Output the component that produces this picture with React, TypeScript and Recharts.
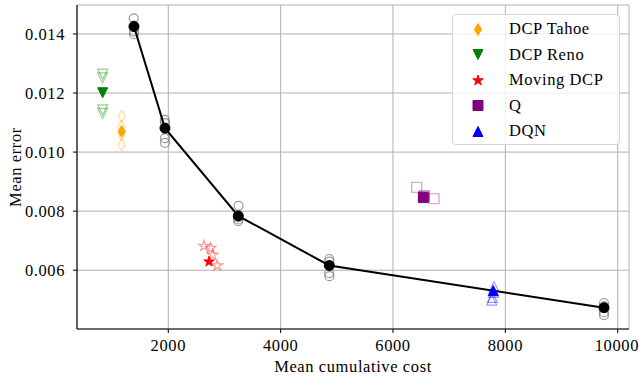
import React from "react";
import { ScatterChart, Scatter, XAxis, YAxis, CartesianGrid, Legend, Label } from "recharts";

const xTicks = [2000, 4000, 6000, 8000, 10000];
const yTicks = [0.006, 0.008, 0.01, 0.012, 0.014];

// threshold sweep (black line) and its single runs
const sweepCost = [1389, 1941, 3246, 4866, 9756];
const sweepError = [0.01425, 0.01081, 0.00784, 0.00616, 0.00473];
const sweepRunCost = [1385, 1390, 1392, 1388, 1938, 1943, 1940, 1942, 3250, 3245, 3248, 3244, 4866, 4868, 4864, 4867, 9755, 9757, 9754, 9756];
const sweepRunError = [0.01453, 0.01428, 0.01408, 0.01399, 0.01109, 0.01098, 0.01047, 0.01031, 0.00818, 0.0078, 0.00772, 0.00766, 0.00638, 0.00629, 0.0059, 0.0058, 0.00489, 0.00478, 0.00458, 0.00448];

const tahoeCost = [1170];
const tahoeError = [0.0107];
const tahoeRunCost = [1170, 1168, 1172, 1169];
const tahoeRunError = [0.01121, 0.01087, 0.01059, 0.01025];

const renoCost = [832];
const renoError = [0.01201];
const renoRunCost = [834, 830, 833, 831];
const renoRunError = [0.01264, 0.01251, 0.01143, 0.01131];

const movingCost = [2725];
const movingError = [0.00629];
const movingRunCost = [2636, 2755, 2790, 2872];
const movingRunError = [0.00682, 0.00675, 0.00652, 0.00616];

const qCost = [6540];
const qError = [0.00846];
const qRunCost = [6422, 6730, 6560, 6545];
const qRunError = [0.00881, 0.00842, 0.00852, 0.0085];

const dqnCost = [7785];
const dqnError = [0.00531];
const dqnRunCost = [7798, 7757, 7770, 7790];
const dqnRunError = [0.00544, 0.00499, 0.00508, 0.00525];

const legendNames = ["DCP Tahoe", "DCP Reno", "Moving DCP", "Q", "DQN"];

type Kind = "circle" | "diamond" | "triDown" | "triUp" | "star" | "square";

const pts = (xs: number[], ys: number[]) => xs.map((x, i) => ({ x, y: ys[i] }));

function markerPath(kind: Kind, cx: number, cy: number, s: number): string {
  const r = s / 2;
  switch (kind) {
    case "circle":
      return `M${cx - r},${cy}a${r},${r} 0 1,0 ${s},0a${r},${r} 0 1,0 ${-s},0Z`;
    case "diamond":
      return `M${cx},${cy - r}L${cx + r * 0.6},${cy}L${cx},${cy + r}L${cx - r * 0.6},${cy}Z`;
    case "triDown":
      return `M${cx - r},${cy - r}L${cx + r},${cy - r}L${cx},${cy + r}Z`;
    case "triUp":
      return `M${cx - r},${cy + r}L${cx + r},${cy + r}L${cx},${cy - r}Z`;
    case "square":
      return `M${cx - r},${cy - r}h${s}v${s}h${-s}Z`;
    case "star": {
      let d = "";
      for (let i = 0; i < 10; i++) {
        const rad = i % 2 === 0 ? r : r * 0.382;
        const a = -Math.PI / 2 + (i * Math.PI) / 5;
        d += `${i === 0 ? "M" : "L"}${cx + rad * Math.cos(a)},${cy + rad * Math.sin(a)}`;
      }
      return d + "Z";
    }
  }
}

const filled = (kind: Kind, color: string, s: number) => (p: any) => (
  <path d={markerPath(kind, p.cx, p.cy, s)} fill={color} stroke={color} strokeWidth={1} />
);

const hollow = (kind: Kind, color: string, s: number, op = 0.4) => (p: any) => (
  <path d={markerPath(kind, p.cx, p.cy, s)} fill="none" stroke={color} strokeOpacity={op} strokeWidth={1.2} />
);

const legendMarks: [Kind, string, number][] = [
  ["diamond", "#ffa500", 12],
  ["triDown", "#008000", 10],
  ["star", "#ff0000", 11],
  ["square", "#800080", 10],
  ["triUp", "#0000ff", 10],
];

function LegendBox() {
  return (
    <div
      style={{
        width: 166,
        height: 129,
        border: "1px solid #d6d6d6",
        borderRadius: 4,
        background: "rgba(255,255,255,0.8)",
        position: "relative",
        fontFamily: "'Liberation Serif', serif",
        fontSize: 16.5,
        letterSpacing: 0.6,
        color: "#000",
      }}
    >
      {legendNames.map((name, i) => {
        const [kind, color, s] = legendMarks[i];
        return (
          <div key={name} style={{ position: "absolute", left: 0, top: 1.5 + i * 25.5, height: 25, display: "flex", alignItems: "center" }}>
            <svg width={50} height={25} style={{ display: "block" }}>
              <path d={markerPath(kind, 25, 12.5, s)} fill={color} stroke={color} />
            </svg>
            <span style={{ marginLeft: 6, whiteSpace: "nowrap" }}>{name}</span>
          </div>
        );
      })}
    </div>
  );
}

const font = { fontFamily: "'Liberation Serif', serif", fontSize: 16.5, fill: "#000", letterSpacing: 0.6 };

export default function App() {
  return (
    <div style={{ position: "absolute", left: 0, top: 0, background: "#fff" }}>
      <ScatterChart width={639} height={385} margin={{ top: 5, right: 10, bottom: 11, left: 0 }}>
        <CartesianGrid stroke="#b0b0b0" strokeWidth={1} />
        <XAxis
          type="number"
          dataKey="x"
          domain={[375, 10201]}
          allowDataOverflow
          ticks={xTicks}
          height={45}
          tick={font}
          tickSize={4}
          tickMargin={6}
          stroke="#000"
          axisLine={{ stroke: "#000", strokeWidth: 1.1 }}
          tickLine={{ stroke: "#000" }}
        >
          <Label value="Mean cumulative cost" position="insideBottom" offset={2} style={font} />
        </XAxis>
        <YAxis
          type="number"
          dataKey="y"
          domain={[0.00401, 0.01498]}
          allowDataOverflow
          ticks={yTicks}
          width={77}
          tick={font}
          tickSize={4}
          tickMargin={8}
          tickFormatter={(v: number) => v.toFixed(3)}
          axisLine={{ stroke: "#000", strokeWidth: 1.1 }}
          tickLine={{ stroke: "#000" }}
        >
          <Label value="Mean error" angle={-90} position="insideLeft" offset={15} style={{ ...font, textAnchor: "middle" }} />
        </YAxis>
        <XAxis xAxisId="top" orientation="top" type="number" domain={[375, 10201]} allowDataOverflow height={0} tick={false} tickLine={false} axisLine={{ stroke: "#000", strokeWidth: 1.1 }} />
        <YAxis yAxisId="right" orientation="right" type="number" domain={[0.00401, 0.01498]} allowDataOverflow width={0} tick={false} tickLine={false} axisLine={{ stroke: "#000", strokeWidth: 1.1 }} />

        <Scatter data={pts(sweepRunCost, sweepRunError)} shape={hollow("circle", "#808080", 9, 0.8)} isAnimationActive={false} />
        <Scatter
          data={pts(sweepCost, sweepError)}
          shape={filled("circle", "#000", 10)}
          line={{ stroke: "#000", strokeWidth: 2 }}
          lineType="joint"
          isAnimationActive={false}
        />

        <Scatter data={pts(tahoeRunCost, tahoeRunError)} shape={hollow("diamond", "#ffa500", 12)} isAnimationActive={false} />
        <Scatter data={pts(tahoeCost, tahoeError)} shape={filled("diamond", "#ffa500", 12)} isAnimationActive={false} />

        <Scatter data={pts(renoRunCost, renoRunError)} shape={hollow("triDown", "#008000", 10)} isAnimationActive={false} />
        <Scatter data={pts(renoCost, renoError)} shape={filled("triDown", "#008000", 10)} isAnimationActive={false} />

        <Scatter data={pts(movingRunCost, movingRunError)} shape={hollow("star", "#ff0000", 11)} isAnimationActive={false} />
        <Scatter data={pts(movingCost, movingError)} shape={filled("star", "#ff0000", 11)} isAnimationActive={false} />

        <Scatter data={pts(qRunCost, qRunError)} shape={hollow("square", "#800080", 10)} isAnimationActive={false} />
        <Scatter data={pts(qCost, qError)} shape={filled("square", "#800080", 10)} isAnimationActive={false} />

        <Scatter data={pts(dqnRunCost, dqnRunError)} shape={hollow("triUp", "#0000ff", 10)} isAnimationActive={false} />
        <Scatter data={pts(dqnCost, dqnError)} shape={filled("triUp", "#0000ff", 10)} isAnimationActive={false} />

        <Legend
          layout="vertical"
          align="center"
          verticalAlign="middle"
          content={() => <LegendBox />}
          wrapperStyle={{ top: 14, left: 452, width: 168, height: 131 }}
        />
      </ScatterChart>
    </div>
  );
}
